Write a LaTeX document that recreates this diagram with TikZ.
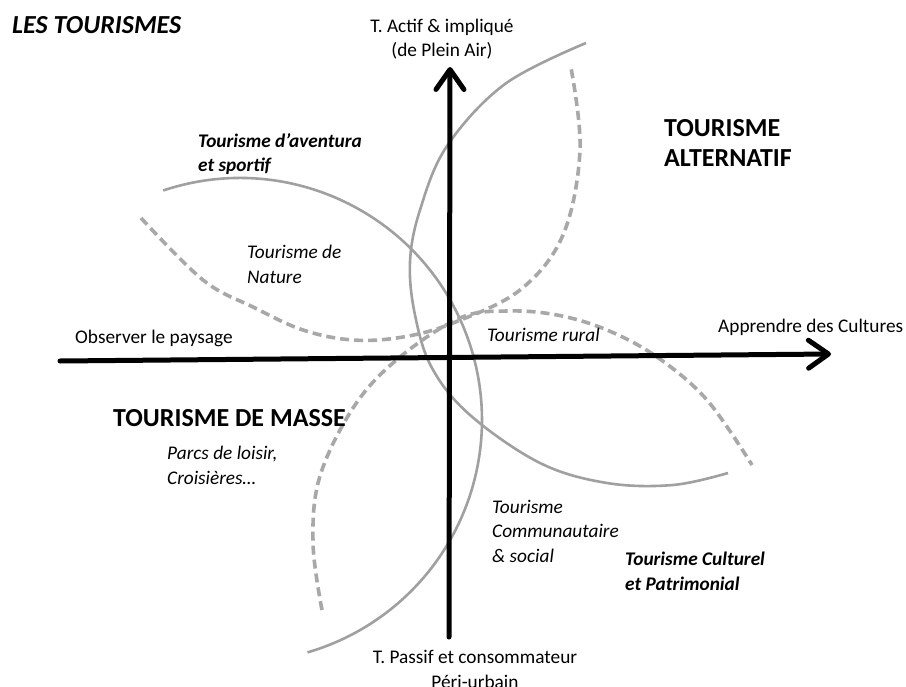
\documentclass[tikz,border=0pt]{standalone}
\usepackage{fontspec}
\setmainfont{Carlito}
\usetikzlibrary{arrows.meta}
\definecolor{curvegray}{RGB}{160,160,160}
\definecolor{dashgray}{RGB}{168,168,168}
\newcommand\fsreg{\fontsize{19.3bp}{24.5bp}\selectfont}
\newcommand\fsbig{\fontsize{26bp}{30bp}\selectfont}
\begin{document}
\begin{tikzpicture}[x=1bp,y=-1bp,
  axis/.style={line width=5bp, line cap=round, -{Straight Barb[length=20bp,width=28bp,line cap=round,line join=round]}},
  solidarc/.style={draw=curvegray, line width=2.6bp},
  dasharc/.style={draw=dashgray, line width=3.6bp, dash pattern=on 9bp off 5bp},
  lbl/.style={inner sep=0pt, anchor=base west, align=left, font=\fsreg},
  itl/.style={lbl, font=\fsreg\itshape},
  bitl/.style={lbl, font=\fsreg\bfseries\itshape},
  head/.style={lbl, font=\fsbig\bfseries},
  ctr/.style={inner sep=0pt, anchor=base, align=center, font=\fsreg}]
\useasboundingbox (0,0) rectangle (906,687);
\fill[white] (0,0) rectangle (906,687);

% curves
\draw[solidarc] (163.2,190.5) arc[start angle=-108.5, end angle=73.8, radius=242];
\draw[solidarc] plot[smooth, tension=0.6] coordinates {(586,43) (505,84) (447,146) (420,210) (410,262) (415,315) (432,368) (470,415) (540,463) (607,483) (673,485) (728,473)};
\draw[dasharc] plot[smooth, tension=0.6] coordinates {(141,218) (203,280) (253,307) (303,330) (353,340) (403,337) (453,323) (520,290) (563,235) (580,150) (571,68)};
\draw[dasharc] plot[smooth, tension=0.6] coordinates {(322,610) (313,543) (320,476) (355,405) (400,357) (460,318) (507,311) (557,315) (607,330) (657,357) (707,400) (752,465)};

% axes
\coordinate (hl) at (60,361);
\coordinate (hr) at (831,354);
\coordinate (vb) at (449,637);
\coordinate (vt) at (450,67);
\draw[axis] (hl) -- (hr);
\draw[axis] (vb) -- (vt);

% labels (multi-line nodes: anchor on the baseline of the last line)
\node[lbl, font=\fsbig\bfseries\itshape] (title) at (12,34) {LES TOURISMES};
\node[ctr] (actif) at (442,57) {T. Actif \& impliqué\\(de Plein Air)};
\node[bitl] (aventure) at (198,172) {Tourisme d’aventura\\et sportif};
\node[itl] (nature) at (247,283) {Tourisme de\\Nature};
\node[lbl] (observer) at (75,343) {Observer le paysage};
\node[head] (alternatif) at (664,167) {TOURISME\\ALTERNATIF};
\node[lbl] (apprendre) at (718,332) {Apprendre des Cultures};
\node[itl] (rural) at (487,341) {Tourisme rural};
\node[head] (masse) at (113,426) {TOURISME DE MASSE};
\node[itl] (parcs) at (167,484) {Parcs de loisir,\\Croisières…};
\node[itl] (communautaire) at (492,562) {Tourisme\\Communautaire\\\& social};
\node[bitl] (culturel) at (625,590) {Tourisme Culturel\\et Patrimonial};
\node[ctr] (passif) at (475,688) {T. Passif et consommateur\\Péri-urbain};
\end{tikzpicture}
\end{document}
